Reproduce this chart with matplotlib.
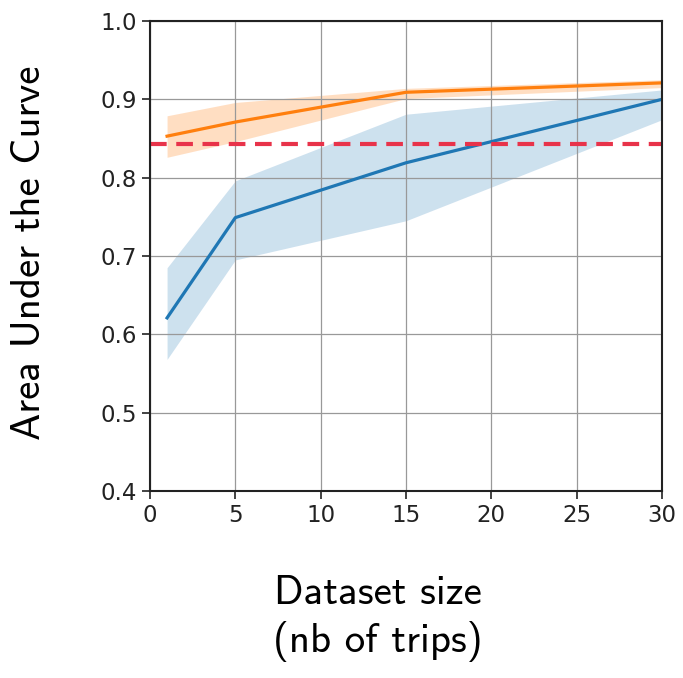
import numpy as np
import matplotlib
matplotlib.use("Agg")
import matplotlib.pyplot as plt

# dataset sizes (nb of trips)
sizes = [1, 5, 15, 30]

# blue curve: mean and band
blue_mean = [0.621, 0.749, 0.819, 0.900]
blue_low = [0.568, 0.695, 0.745, 0.874]
blue_high = [0.685, 0.796, 0.881, 0.912]

# orange curve: mean and band
orange_mean = [0.853, 0.871, 0.909, 0.921]
orange_low = [0.826, 0.846, 0.901, 0.915]
orange_high = [0.879, 0.896, 0.914, 0.925]

baseline = 0.843

fig = plt.figure(figsize=(6.83, 6.78), dpi=100)
ax = fig.add_axes([150/683, 1-491/678, 512/683, 470/678])

ax.fill_between(sizes, blue_low, blue_high, color='tab:blue', alpha=0.22, lw=0)
ax.fill_between(sizes, orange_low, orange_high, color='tab:orange', alpha=0.25, lw=0)
ax.plot(sizes, blue_mean, color='tab:blue', lw=2.3)
ax.plot(sizes, orange_mean, color='tab:orange', lw=2.3)
ax.axhline(baseline, color='#e8334a', lw=3, ls=(0, (4, 2.3)))

ax.set_xlim(0, 30)
ax.set_ylim(0.4, 1.0)
ax.set_xticks([0, 5, 10, 15, 20, 25, 30])
ax.set_yticks([0.4, 0.5, 0.6, 0.7, 0.8, 0.9, 1.0])
ax.grid(True, color='0.6', lw=0.9)
ax.tick_params(labelsize=16.5, length=6, width=1.2, colors='#222222')
for s in ax.spines.values():
    s.set_linewidth(1.5)
    s.set_color('#222222')

fig.text(30/683, 1-253/678, 'Area Under the Curve', rotation=90,
         ha='center', va='center', fontsize=29.5, family='cmss10')
fig.text(378/683, 1-594/678, 'Dataset size', ha='center', va='center',
         fontsize=29.5, family='cmss10')
fig.text(378/683, 1-641/678, '(nb of trips)', ha='center', va='center',
         fontsize=29.5, family='cmss10')

fig.savefig('out.png', dpi=100)
